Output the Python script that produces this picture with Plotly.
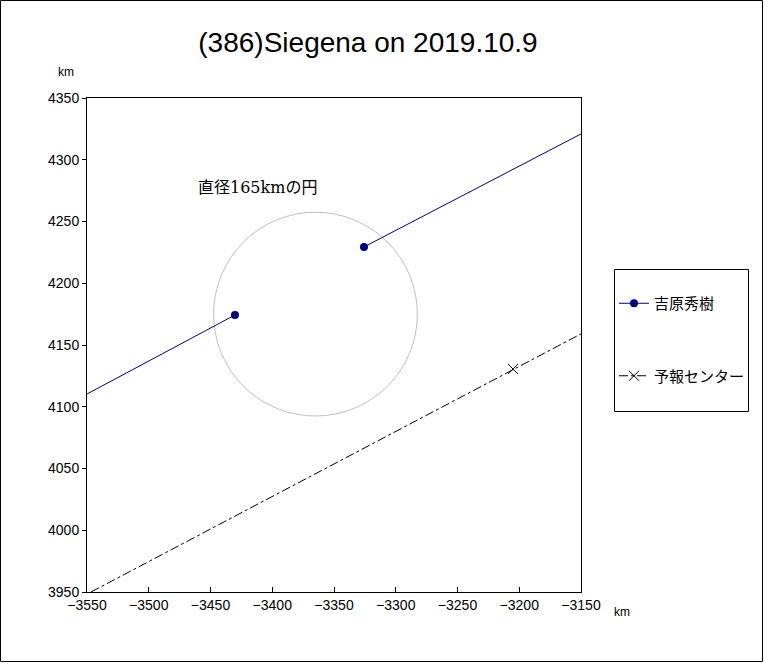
import plotly.graph_objects as go

# Data
obs_name = "吉原秀樹"
obs_pts_x = [-3430.2, None, -3325.7]
obs_pts_y = [4174.3, None, 4229.4]
obs_line_x = [-3550, -3430.2, None, -3325.7, -3150]
obs_line_y = [4110.3, 4174.3, None, 4229.4, 4320.9]

pred_name = "予報センター"
pred_pt_x = [-3205.1]
pred_pt_y = [4130.6]
pred_line_x = [-3546.8, -3150]
pred_line_y = [3950.0, 4159.0]

circle_center = (-3365.0, 4175.0)
circle_diameter = 165.0
circle_label = "直径165kmの円"

x_ticks = [-3550, -3500, -3450, -3400, -3350, -3300, -3250, -3200, -3150]
y_ticks = [3950, 4000, 4050, 4100, 4150, 4200, 4250, 4300, 4350]

title = "(386)Siegena on 2019.10.9"

W, H = 764, 663
L, R, T, B = 87, 183, 98, 71
pw, ph = W - L - R, H - T - B

def px2paper_x(px):
    return (px - L) / pw

def px2paper_y(py):
    return (H - B - py) / ph

NAVY = "#000080"
fig = go.Figure()

# observation line segments (no legend)
fig.add_trace(go.Scatter(
    x=obs_line_x, y=obs_line_y, mode="lines", showlegend=False, hoverinfo="skip",
    line=dict(color=NAVY, width=1), connectgaps=False,
))
# observation points (legend)
fig.add_trace(go.Scatter(
    x=obs_pts_x, y=obs_pts_y, mode="lines+markers", name=obs_name,
    line=dict(color=NAVY, width=1),
    marker=dict(color=NAVY, size=8, symbol="circle"),
    connectgaps=False, legendgroup="a",
))

# prediction line (no legend)
fig.add_trace(go.Scatter(
    x=pred_line_x, y=pred_line_y, mode="lines", showlegend=False, hoverinfo="skip",
    line=dict(color="black", width=1, dash="dashdot"),
))
fig.add_trace(go.Scatter(
    x=pred_pt_x, y=pred_pt_y, mode="lines+markers", name=pred_name,
    line=dict(color="black", width=1, dash="dashdot"),
    marker=dict(color="black", size=10, symbol="x-thin-open",
                line=dict(color="black", width=1)),
    legendgroup="b",
))

r = circle_diameter / 2
cx, cy = circle_center
fig.add_shape(type="circle", xref="x", yref="y",
              x0=cx - r, x1=cx + r, y0=cy - r, y1=cy + r,
              line=dict(color="#c0c0c0", width=1), layer="below")

fig.add_annotation(x=px2paper_x(196), y=px2paper_y(187), xref="paper", yref="paper",
                   text=circle_label, showarrow=False, xanchor="left", yanchor="middle",
                   font=dict(family="DejaVu Serif, Noto Sans CJK JP", size=16, color="black"))

fig.add_annotation(x=px2paper_x(66), y=px2paper_y(72), xref="paper", yref="paper",
                   text="km", showarrow=False, xanchor="center", yanchor="middle",
                   font=dict(family="Liberation Sans", size=12, color="black"))
fig.add_annotation(x=px2paper_x(622), y=px2paper_y(612), xref="paper", yref="paper",
                   text="km", showarrow=False, xanchor="center", yanchor="middle",
                   font=dict(family="Liberation Sans", size=12, color="black"))

# outer frame
fig.add_shape(type="rect", xref="paper", yref="paper",
              x0=px2paper_x(0.5), x1=px2paper_x(762.5), y0=px2paper_y(661.5), y1=px2paper_y(0.5),
              line=dict(color="black", width=1))
# legend box
fig.add_shape(type="rect", xref="paper", yref="paper",
              x0=px2paper_x(614.5), x1=px2paper_x(748.5), y0=px2paper_y(411.5), y1=px2paper_y(269.5),
              line=dict(color="black", width=1))

fig.update_layout(
    width=W, height=H,
    margin=dict(l=L, r=R, t=T, b=B),
    paper_bgcolor="white", plot_bgcolor="white",
    title=dict(text=title, x=368 / W, xanchor="center", xref="container",
               y=1 - 42 / H, yanchor="middle",
               font=dict(family="Liberation Sans", size=28, color="black")),
    showlegend=True,
    legend=dict(x=px2paper_x(614), y=px2paper_y(287), xanchor="left", yanchor="top",
                borderwidth=0, bgcolor="rgba(0,0,0,0)",
                font=dict(family="Noto Sans CJK JP", size=15, color="black"),
                tracegroupgap=50, itemwidth=30),
    font=dict(family="Liberation Sans", size=14, color="black"),
)
fig.update_xaxes(range=[-3550, -3150], tickvals=x_ticks, showgrid=False, zeroline=False,
                 showline=True, linecolor="black", linewidth=1, mirror=True,
                 ticks="inside", ticklen=5, tickcolor="black",
                 tickfont=dict(family="Liberation Sans", size=14))
fig.update_yaxes(range=[3950, 4350], tickvals=y_ticks, showgrid=False, zeroline=False,
                 showline=True, linecolor="black", linewidth=1, mirror=True,
                 ticks="outside", ticklen=4, tickcolor="black",
                 tickfont=dict(family="Liberation Sans", size=14))

fig.write_html("out.html", config={"displayModeBar": False},
               post_script="document.body.style.margin='0px';")
